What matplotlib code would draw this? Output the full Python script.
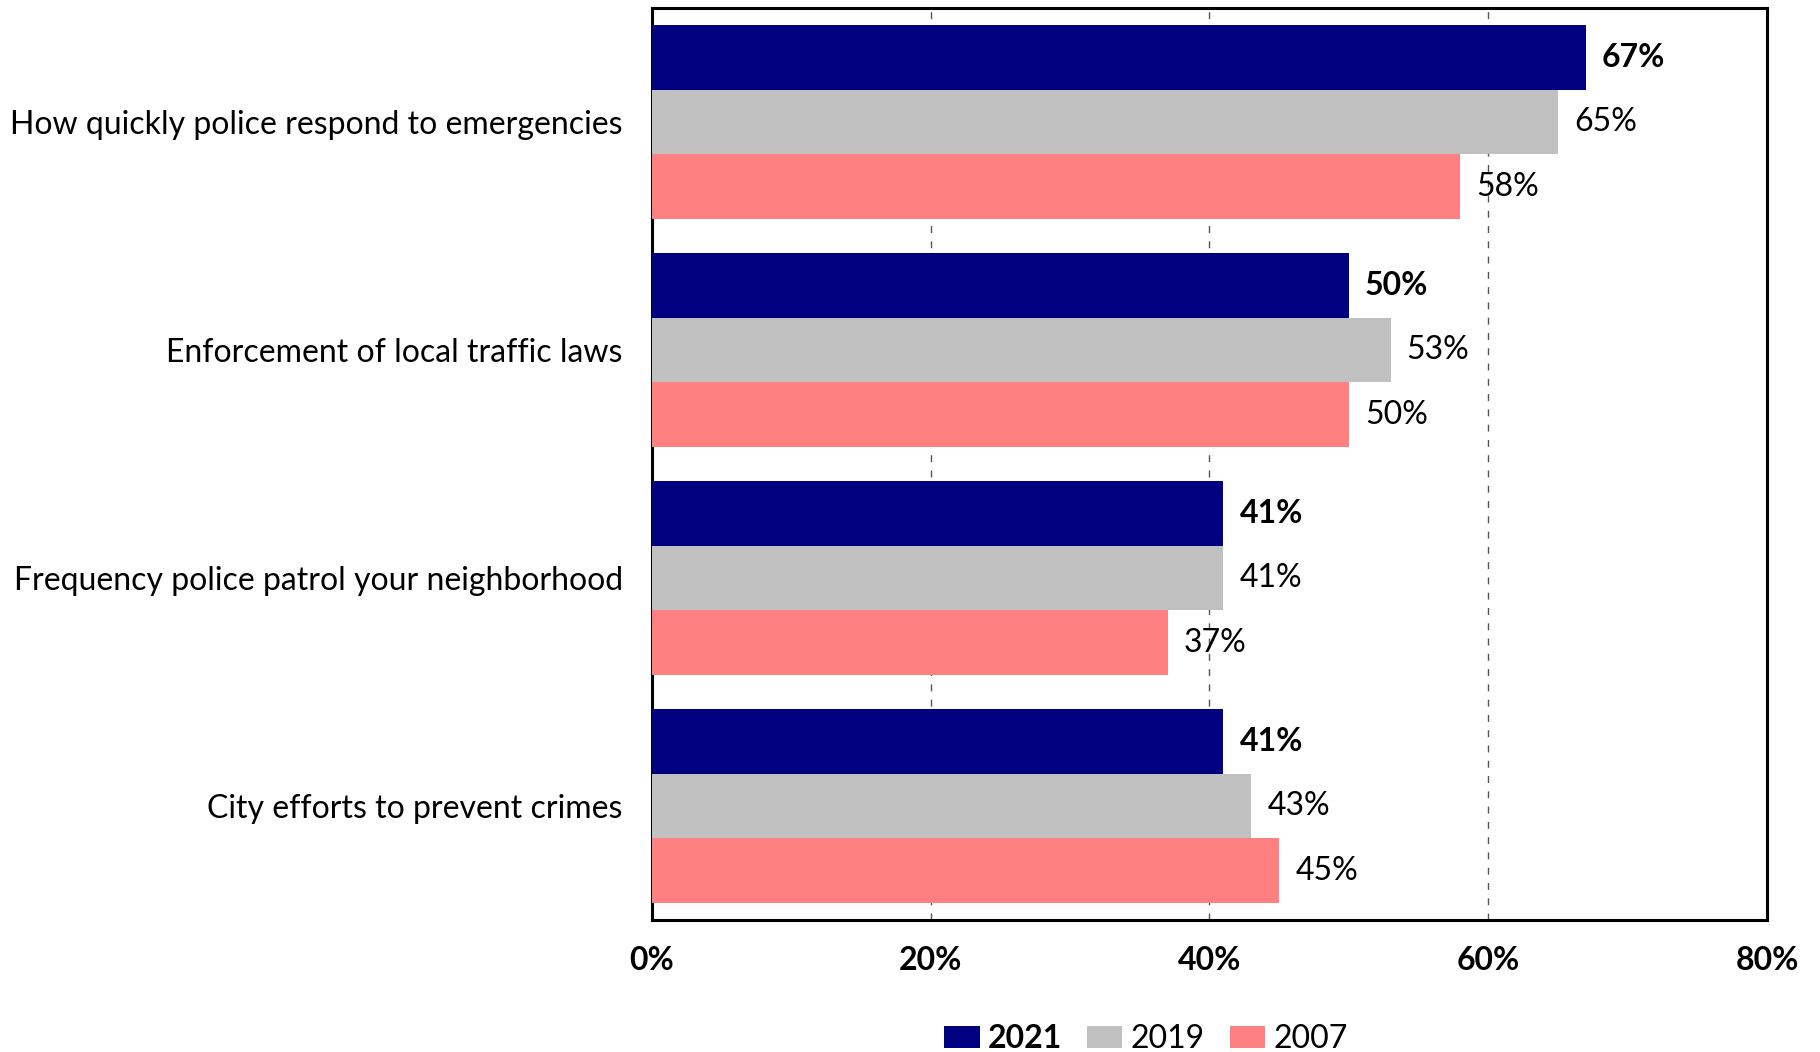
import numpy as np
import matplotlib
matplotlib.use("Agg")
import matplotlib.pyplot as plt
from matplotlib.patches import Patch

# Survey results: share satisfied, by item and year
items = [
    "How quickly police respond to emergencies",
    "Enforcement of local traffic laws",
    "Frequency police patrol your neighborhood",
    "City efforts to prevent crimes",
]
years = ["2021", "2019", "2007"]
vals_2021 = [67, 50, 41, 41]
vals_2019 = [65, 53, 41, 43]
vals_2007 = [58, 50, 37, 45]
x_ticks = [0, 20, 40, 60, 80]

colors = ["#000080", "#C0C0C0", "#FF8080"]
series = [vals_2021, vals_2019, vals_2007]

plt.rcParams["font.family"] = ["Lato", "DejaVu Sans"]
FS = 23

fig = plt.figure(figsize=(18.2, 10.52), dpi=100)
ax = fig.add_axes([0.3582, 0.1255, 0.6127, 0.8669])

y = np.arange(len(items))
h = 0.85 / 3

for i, (vals, c) in enumerate(zip(series, colors)):
    pos = y + (i - 1) * h
    ax.barh(pos, vals, height=h, color=c, zorder=3)
    for p, v in zip(pos, vals):
        ax.text(v + 1.15, p, f"{v}%", va="center", ha="left", fontsize=FS,
                fontweight="bold" if i == 0 else "normal", zorder=4)

ax.set_ylim(len(items) - 0.5, -0.5)
ax.set_xlim(0, 80)
ax.set_yticks(y)
ax.set_yticklabels(items, fontsize=FS)
ax.set_xticks(x_ticks)
ax.set_xticklabels([f"{t}%" for t in x_ticks], fontsize=FS, fontweight="bold")
ax.tick_params(axis="y", length=0, pad=21)
ax.tick_params(axis="x", length=0, pad=19)

ax.grid(axis="x", linestyle=(0, (5, 6)), color="#555555", linewidth=1, zorder=0)
for s in ax.spines.values():
    s.set_linewidth(2.2)
    s.set_color("black")

handles = [Patch(facecolor=c, edgecolor="none") for c in colors]
leg = fig.legend(handles, years, loc="center", bbox_to_anchor=(1146 / 1820, 1 - 1039 / 1052),
                 ncol=3, frameon=False, fontsize=FS, handlelength=1.1, handleheight=0.7,
                 handletextpad=0.25, columnspacing=0.8, borderpad=0)
leg.get_texts()[0].set_fontweight("bold")

fig.savefig("out.png", dpi=100)
plt.close(fig)
